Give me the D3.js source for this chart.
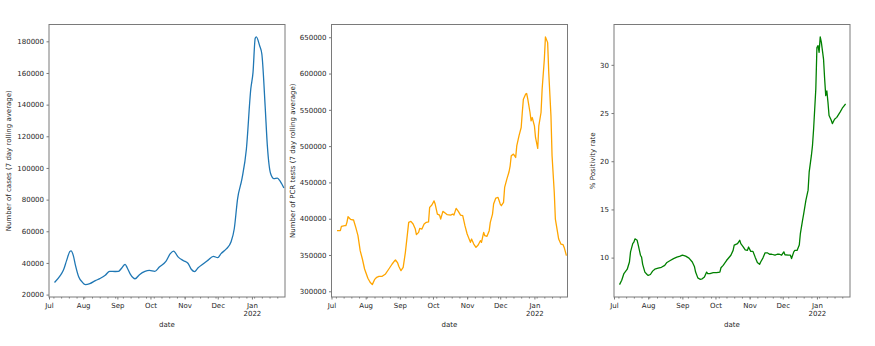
<!DOCTYPE html>
<html>
<head>
<meta charset="utf-8">
<script src="https://cdn.jsdelivr.net/npm/d3@7"></script>
<style>
  body { margin: 0; background: #fff; }
  svg { display: block; }
  text { font-family: "DejaVu Sans", sans-serif; }
</style>
</head>
<body>
<svg id="chart" width="875" height="346"></svg>
<script>
// 7-day rolling average of reported cases
const casesDates = ["2021-07-06","2021-07-11","2021-07-14","2021-07-17","2021-07-20","2021-07-21","2021-07-23","2021-07-25","2021-07-28","2021-07-31",
  "2021-08-03","2021-08-07","2021-08-12","2021-08-16","2021-08-21","2021-08-25","2021-08-30","2021-09-02","2021-09-05","2021-09-08",
  "2021-09-10","2021-09-13","2021-09-17","2021-09-21","2021-09-26","2021-09-30","2021-10-05","2021-10-09","2021-10-15","2021-10-19",
  "2021-10-22","2021-10-26","2021-10-31","2021-11-04","2021-11-07","2021-11-10","2021-11-13","2021-11-18","2021-11-22","2021-11-27",
  "2021-12-01","2021-12-04","2021-12-09","2021-12-13","2021-12-16","2021-12-19","2021-12-23","2021-12-27","2021-12-31","2022-01-02",
  "2022-01-04","2022-01-05","2022-01-08","2022-01-10","2022-01-13","2022-01-15","2022-01-18","2022-01-21","2022-01-24","2022-01-26",
  "2022-01-28","2022-01-30"];
const casesValues = [27600,31800,35300,41600,47300,47600,44800,38500,31100,28000,
  26300,26900,28800,30100,32200,34700,34600,34700,36800,39100,
  36800,32600,30000,32600,34700,35300,34700,37400,41000,45900,
  47500,43800,41400,39800,36000,34500,36800,39500,41600,44200,
  43300,45900,49000,53200,61600,80500,93200,112000,150000,160400,
  182000,182800,177200,172000,139000,114000,96300,93200,93600,92300,
  90000,87300];

// 7-day rolling average of PCR tests
const testsDates = ["2021-07-06","2021-07-09","2021-07-10","2021-07-13","2021-07-14","2021-07-15","2021-07-16","2021-07-18","2021-07-19","2021-07-21",
  "2021-07-23","2021-07-25","2021-07-27","2021-07-29","2021-07-31","2021-08-03","2021-08-05","2021-08-07","2021-08-09","2021-08-11",
  "2021-08-13","2021-08-16","2021-08-19","2021-08-22","2021-08-25","2021-08-27","2021-08-28","2021-08-30","2021-08-31","2021-09-02",
  "2021-09-04","2021-09-06","2021-09-08","2021-09-09","2021-09-11","2021-09-13","2021-09-15","2021-09-16","2021-09-18","2021-09-19",
  "2021-09-21","2021-09-23","2021-09-25","2021-09-27","2021-09-28","2021-09-30","2021-10-02","2021-10-03","2021-10-05","2021-10-07",
  "2021-10-08","2021-10-10","2021-10-12","2021-10-14","2021-10-17","2021-10-19","2021-10-20","2021-10-22","2021-10-24","2021-10-26",
  "2021-10-28","2021-10-30","2021-11-01","2021-11-04","2021-11-05","2021-11-07","2021-11-09","2021-11-11","2021-11-13","2021-11-14",
  "2021-11-16","2021-11-17","2021-11-19","2021-11-21","2021-11-22","2021-11-24","2021-11-25","2021-11-27","2021-11-29","2021-12-01",
  "2021-12-02","2021-12-04","2021-12-05","2021-12-07","2021-12-09","2021-12-10","2021-12-11","2021-12-13","2021-12-15","2021-12-16",
  "2021-12-18","2021-12-20","2021-12-21","2021-12-22","2021-12-24","2021-12-25","2021-12-26","2021-12-28","2021-12-29","2021-12-30",
  "2022-01-01","2022-01-02","2022-01-04","2022-01-05","2022-01-07","2022-01-08","2022-01-10","2022-01-11","2022-01-13","2022-01-14",
  "2022-01-16","2022-01-17","2022-01-19","2022-01-20","2022-01-22","2022-01-23","2022-01-25","2022-01-27","2022-01-28","2022-01-30"];
const testsValues = [383500,383500,389400,390400,390400,395000,402700,399500,398600,398200,
  388000,376600,356000,344500,330700,317900,312400,309200,316000,319300,
  320600,320600,323900,330700,337600,341700,343100,339000,334400,328400,
  333000,353700,381200,395000,396300,392700,385800,378000,381200,386700,
  385800,392700,395000,395500,415600,418800,424500,420200,406400,405000,
  399500,410100,407800,405500,405000,406400,405000,414200,410100,405000,
  404100,390400,378900,367400,372000,365100,360500,363800,369700,367400,
  381200,376600,375700,383500,395000,406400,420200,428400,429400,420200,
  417900,422500,443100,454600,464700,472900,486700,489000,484400,500400,
  514200,525700,546300,564700,571600,572500,564700,546300,534800,539400,
  528000,511900,496800,528000,546300,578400,619700,650500,642600,601400,
  541700,486700,436200,399500,381200,372000,365100,364200,360500,349100];

// Test positivity rate (%)
const positivityDates = ["2021-07-06","2021-07-08","2021-07-10","2021-07-13","2021-07-15","2021-07-16","2021-07-18","2021-07-19","2021-07-20","2021-07-22",
  "2021-07-23","2021-07-25","2021-07-26","2021-07-27","2021-07-29","2021-07-31","2021-08-01","2021-08-03","2021-08-05","2021-08-07",
  "2021-08-10","2021-08-13","2021-08-16","2021-08-18","2021-08-21","2021-08-24","2021-08-27","2021-08-30","2021-09-01","2021-09-04",
  "2021-09-07","2021-09-10","2021-09-12","2021-09-13","2021-09-15","2021-09-17","2021-09-19","2021-09-21","2021-09-23","2021-09-24",
  "2021-09-26","2021-09-29","2021-10-02","2021-10-05","2021-10-06","2021-10-08","2021-10-11","2021-10-15","2021-10-17","2021-10-18",
  "2021-10-21","2021-10-23","2021-10-24","2021-10-26","2021-10-28","2021-10-30","2021-10-31","2021-11-02","2021-11-04","2021-11-06",
  "2021-11-08","2021-11-10","2021-11-11","2021-11-13","2021-11-15","2021-11-17","2021-11-19","2021-11-21","2021-11-24","2021-11-26",
  "2021-11-28","2021-11-30","2021-12-02","2021-12-03","2021-12-06","2021-12-08","2021-12-09","2021-12-11","2021-12-12","2021-12-14",
  "2021-12-16","2021-12-17","2021-12-19","2021-12-20","2021-12-22","2021-12-24","2021-12-25","2021-12-27","2021-12-28","2021-12-29",
  "2021-12-31","2022-01-01","2022-01-02","2022-01-03","2022-01-04","2022-01-05","2022-01-07","2022-01-08","2022-01-09","2022-01-10",
  "2022-01-11","2022-01-12","2022-01-14","2022-01-15","2022-01-17","2022-01-19","2022-01-22","2022-01-24","2022-01-26","2022-01-27"];
const positivityValues = [7.2,7.65,8.35,8.8,9.55,10.6,11.45,11.6,11.95,11.8,
  11.3,10.25,10.05,9.3,8.5,8.25,8.15,8.25,8.6,8.8,
  8.9,9.0,9.2,9.5,9.7,9.9,10.05,10.15,10.25,10.15,
  9.95,9.55,9.05,8.5,7.9,7.75,7.8,8.0,8.5,8.35,
  8.35,8.45,8.45,8.5,8.95,9.2,9.7,10.25,10.75,11.3,
  11.45,11.8,11.45,11.15,10.8,10.75,11.1,10.65,10.65,10.05,
  9.5,9.3,9.55,9.95,10.5,10.5,10.35,10.35,10.25,10.35,
  10.35,10.25,10.6,10.3,10.25,10.25,9.9,10.6,10.75,10.75,
  11.3,12.5,13.9,14.55,15.95,17.0,18.9,20.6,21.65,23.35,
  27.5,31.8,32.0,31.3,32.9,32.35,30.6,28.55,26.8,27.3,
  26.15,24.75,24.25,23.9,24.35,24.55,25.1,25.5,25.8,25.95];

// Axis ticks
const xRange = ["2021-07-01", "2022-01-31"];
const monthTicks = ["2021-07-01","2021-08-01","2021-09-01","2021-10-01","2021-11-01","2021-12-01","2022-01-01"];
const monthLabels = ["Jul","Aug","Sep","Oct","Nov","Dec","Jan"];
const yearLabels = ["","","","","","","2022"];
const casesTicks = [20000,40000,60000,80000,100000,120000,140000,160000,180000];
const testsTicks = [300000,350000,400000,450000,500000,550000,600000,650000];
const positivityTicks = [10,15,20,25,30];

const parse = d3.utcParse("%Y-%m-%d");
const svg = d3.select("#chart");

const plotTop = 24.5, plotBottom = 297, plotWidth = 236;
const fontSize = 7;
const textColor = "#262626";
const spineColor = "#7a7a7a";

const panels = [
  { dates: casesDates, values: casesValues, ticks: casesTicks, color: "#1f77b4",
    label: "Number of cases (7 day rolling average)", left: 49, labelX: 9, curve: d3.curveMonotoneX },
  { dates: testsDates, values: testsValues, ticks: testsTicks, color: "#ffa500",
    label: "Number of PCR tests (7 day rolling average)", left: 331.5, labelX: 292.5, curve: d3.curveLinear },
  { dates: positivityDates, values: positivityValues, ticks: positivityTicks, color: "#008000",
    label: "% Positivity rate", left: 614, labelX: 592.5, curve: d3.curveLinear }
];

panels.forEach((p, k) => {
  const x = d3.scaleUtc()
    .domain(xRange.map(parse))
    .range([p.left, p.left + plotWidth]);

  // y-limits padded by 5% of the data span on each side
  const [lo, hi] = d3.extent(p.values);
  const pad = (hi - lo) * 0.05;
  const y = d3.scaleLinear()
    .domain([lo - pad, hi + pad])
    .range([plotBottom, plotTop]);

  const clipId = "clip" + k;
  svg.append("clipPath").attr("id", clipId)
    .append("rect")
    .attr("x", p.left).attr("y", plotTop)
    .attr("width", plotWidth).attr("height", plotBottom - plotTop);

  const points = p.dates.map((d, i) => [parse(d), p.values[i]]);
  svg.append("path")
    .attr("clip-path", `url(#${clipId})`)
    .attr("d", d3.line().x(d => x(d[0])).y(d => y(d[1])).curve(p.curve)(points))
    .attr("fill", "none")
    .attr("stroke", p.color)
    .attr("stroke-width", 1.3)
    .attr("stroke-linejoin", "round");

  // frame
  svg.append("rect")
    .attr("x", p.left).attr("y", plotTop)
    .attr("width", plotWidth).attr("height", plotBottom - plotTop)
    .attr("fill", "none")
    .attr("stroke", spineColor)
    .attr("stroke-width", 1);

  // weekly minor ticks
  const minorAxis = d3.axisBottom(x)
    .tickValues(d3.utcMonday.range(x.domain()[0], x.domain()[1]))
    .tickSize(1.5)
    .tickFormat("");
  const gMinor = svg.append("g")
    .attr("transform", `translate(0,${plotBottom})`)
    .call(minorAxis);
  gMinor.select(".domain").remove();
  gMinor.selectAll("line").attr("stroke", spineColor);

  // monthly major ticks
  const majorAxis = d3.axisBottom(x)
    .tickValues(monthTicks.map(parse))
    .tickSize(2.5)
    .tickPadding(3.5)
    .tickFormat((d, i) => monthLabels[i]);
  const gx = svg.append("g")
    .attr("transform", `translate(0,${plotBottom})`)
    .call(majorAxis);
  gx.select(".domain").remove();
  gx.selectAll("line").attr("stroke", spineColor);
  gx.selectAll("text")
    .attr("font-size", fontSize)
    .attr("font-family", "DejaVu Sans, sans-serif")
    .attr("fill", textColor)
    .each(function (d, i) {
      if (yearLabels[i]) {
        d3.select(this).append("tspan")
          .attr("x", 0).attr("dy", "1.15em")
          .text(yearLabels[i]);
      }
    });

  const yAxis = d3.axisLeft(y)
    .tickValues(p.ticks)
    .tickSize(2.5)
    .tickPadding(2.5)
    .tickFormat(d3.format("d"));
  const gy = svg.append("g")
    .attr("transform", `translate(${p.left},0)`)
    .call(yAxis);
  gy.select(".domain").remove();
  gy.selectAll("line").attr("stroke", spineColor);
  gy.selectAll("text")
    .attr("font-size", fontSize)
    .attr("font-family", "DejaVu Sans, sans-serif")
    .attr("fill", textColor);

  // axis titles
  svg.append("text")
    .attr("x", p.left + plotWidth / 2)
    .attr("y", 326.5)
    .attr("text-anchor", "middle")
    .attr("font-size", fontSize)
    .attr("fill", textColor)
    .text("date");

  svg.append("text")
    .attr("transform", `translate(${p.labelX},${(plotTop + plotBottom) / 2}) rotate(-90)`)
    .attr("text-anchor", "middle")
    .attr("dominant-baseline", "central")
    .attr("font-size", fontSize)
    .attr("fill", textColor)
    .text(p.label);
});
</script>
</body>
</html>
